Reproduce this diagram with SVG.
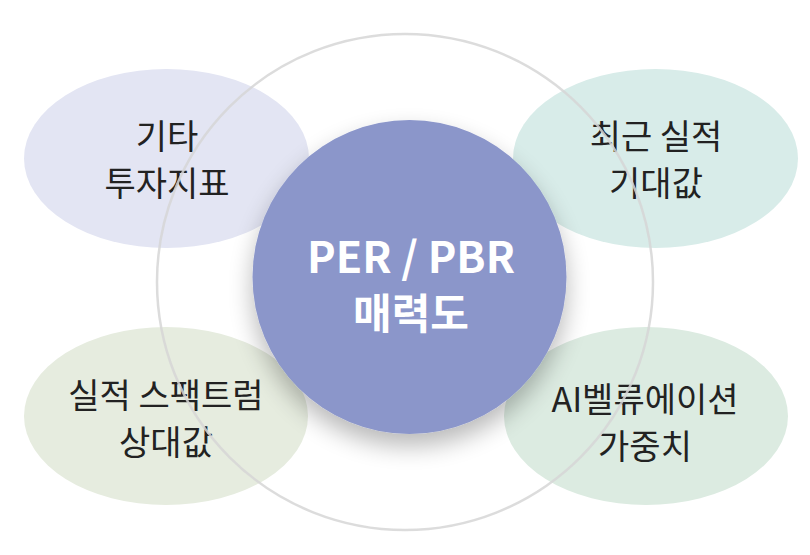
<svg xmlns="http://www.w3.org/2000/svg" width="810" height="555" viewBox="0 0 810 555">
  <defs>
    <filter id="drop" x="-30%" y="-30%" width="160%" height="170%">
      <feGaussianBlur in="SourceAlpha" stdDeviation="12"/>
      <feOffset dx="0" dy="12" result="blur"/>
      <feComponentTransfer><feFuncA type="linear" slope="0.28"/></feComponentTransfer>
      <feMerge><feMergeNode/><feMergeNode in="SourceGraphic"/></feMerge>
    </filter>
  </defs>
  <style>
    .bubble text { font-family: "Noto Sans CJK KR", "Noto Sans", sans-serif; font-size: 34px; fill: #222222; text-anchor: middle; }
    .hub text { font-family: "Noto Sans CJK KR", "Noto Sans", sans-serif; font-weight: 700; fill: #ffffff; text-anchor: middle; }
    .ring { fill: none; stroke: #d6d6d6; stroke-width: 2.5; opacity: 0.85; }
  </style>
  <rect width="810" height="555" fill="#ffffff"/>

  <g id="node-other" class="bubble">
    <ellipse cx="166.5" cy="158.5" rx="142.5" ry="89.5" fill="#e3e5f3"/>
    <text x="167" y="149">기타</text>
    <text x="167" y="196">투자지표</text>
  </g>
  <g id="node-recent" class="bubble">
    <ellipse cx="655.5" cy="158.5" rx="142.5" ry="89.5" fill="#d8ece9"/>
    <text x="656" y="149">최근 실적</text>
    <text x="656" y="196">기대값</text>
  </g>
  <g id="node-spectrum" class="bubble">
    <ellipse cx="166" cy="416" rx="142" ry="89" fill="#e6ecdf"/>
    <text x="166" y="408">실적 스팩트럼</text>
    <text x="166" y="455">상대값</text>
  </g>
  <g id="node-ai" class="bubble">
    <ellipse cx="646" cy="416" rx="142" ry="89" fill="#dcebe1"/>
    <text x="645" y="412">AI벨류에이션</text>
    <text x="645" y="459">가중치</text>
  </g>

  <g id="connectors">
    <circle class="ring" cx="405" cy="282" r="248"/>
  </g>

  <g id="node-hub" class="hub">
    <circle cx="409.5" cy="277" r="157" fill="#8b96ca" filter="url(#drop)"/>
    <text x="411" y="273" font-size="43">PER / PBR</text>
    <text x="411" y="329" font-size="42">매력도</text>
  </g>
</svg>
